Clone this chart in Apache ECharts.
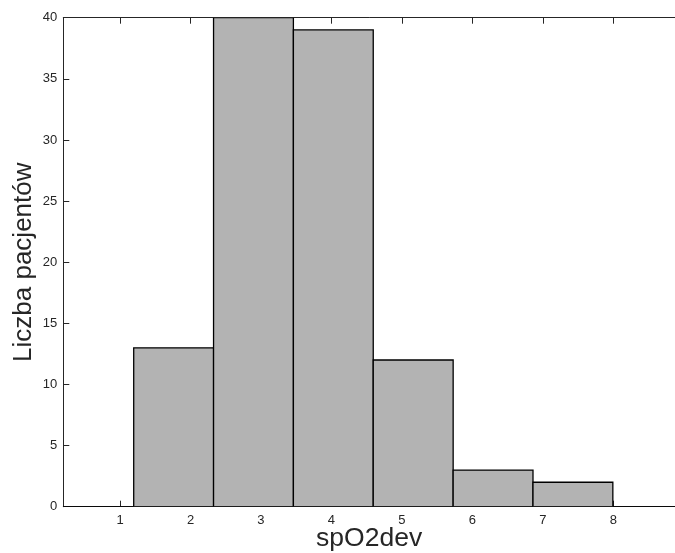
<!DOCTYPE html>
<html>
<head>
<meta charset="utf-8">
<script src="https://cdn.jsdelivr.net/npm/echarts@6/dist/echarts.min.js"></script>
<style>
html,body{margin:0;padding:0;background:#fff;}
#chart{width:675px;height:553px;}
</style>
</head>
<body>
<div id="chart"></div>
<script>
// Data
const binEdges = [0.061, 1.194, 2.327, 3.460, 4.593, 5.727, 6.860, 7.993, 9.126];
const counts = [0, 13, 40, 39, 12, 3, 2, 0];
const xTicks = [1, 2, 3, 4, 5, 6, 7, 8];
const yTicks = [0, 5, 10, 15, 20, 25, 30, 35, 40];
const xLabel = 'spO2dev';
const yLabel = 'Liczba pacjentów';

const axisColor = '#262626';
const font = 'Liberation Sans, Arial, Helvetica, sans-serif';

const barData = counts.map((c, i) => [binEdges[i], binEdges[i + 1], c]);

const chart = echarts.init(document.getElementById('chart'), null, {renderer: 'canvas'});
const xMin = 0.195, xMax = 8.875;
chart.setOption({
  animation: false,
  backgroundColor: '#fff',
  grid: {left: 63.3, right: 0, top: 17.7, bottom: 46.3, containLabel: false, outerBoundsMode: 'none'},
  xAxis: [{
    type: 'value', min: xMin, max: xMax, position: 'bottom',
    name: xLabel, nameLocation: 'middle', nameGap: 18, nameMoveOverlap: false,
    nameTextStyle: {fontFamily: font, fontSize: 26.5, color: axisColor},
    axisLine: {show: true, onZero: false, lineStyle: {color: axisColor, width: 1}},
    axisTick: {show: true, inside: true, length: 6, customValues: xTicks, lineStyle: {color: axisColor}},
    axisLabel: {show: true, customValues: xTicks, margin: 7, fontFamily: font, fontSize: 13, color: axisColor},
    splitLine: {show: false}
  }, {
    type: 'value', min: xMin, max: xMax, position: 'top',
    axisLine: {show: true, onZero: false, lineStyle: {color: axisColor, width: 1}},
    axisTick: {show: true, inside: true, length: 6, customValues: xTicks, lineStyle: {color: axisColor}},
    axisLabel: {show: false},
    splitLine: {show: false}
  }],
  yAxis: [{
    type: 'value', min: 0, max: 40, interval: 5, position: 'left',
    name: yLabel, nameLocation: 'middle', nameGap: 26, nameRotate: 90, nameMoveOverlap: false,
    nameTextStyle: {fontFamily: font, fontSize: 26, color: axisColor},
    axisLine: {show: true, onZero: false, lineStyle: {color: axisColor, width: 1}},
    axisTick: {show: true, inside: true, length: 6, lineStyle: {color: axisColor}},
    axisLabel: {show: true, margin: 6, fontFamily: font, fontSize: 13, color: axisColor,
      formatter: v => yTicks.includes(v) ? String(v) : ''},
    splitLine: {show: false}
  }],
  series: [{
    type: 'custom',
    xAxisIndex: 0, yAxisIndex: 0,
    clip: true,
    data: barData,
    encode: {x: [0, 1], y: 2},
    renderItem: function (params, api) {
      const x0 = api.value(0), x1 = api.value(1), c = api.value(2);
      const p0 = api.coord([x0, c]);
      const p1 = api.coord([x1, 0]);
      return {
        type: 'rect',
        shape: {x: p0[0], y: p0[1], width: p1[0] - p0[0], height: p1[1] - p0[1]},
        style: {fill: '#b3b3b3', stroke: '#000', lineWidth: 1.3}
      };
    }
  }]
});
</script>
</body>
</html>
